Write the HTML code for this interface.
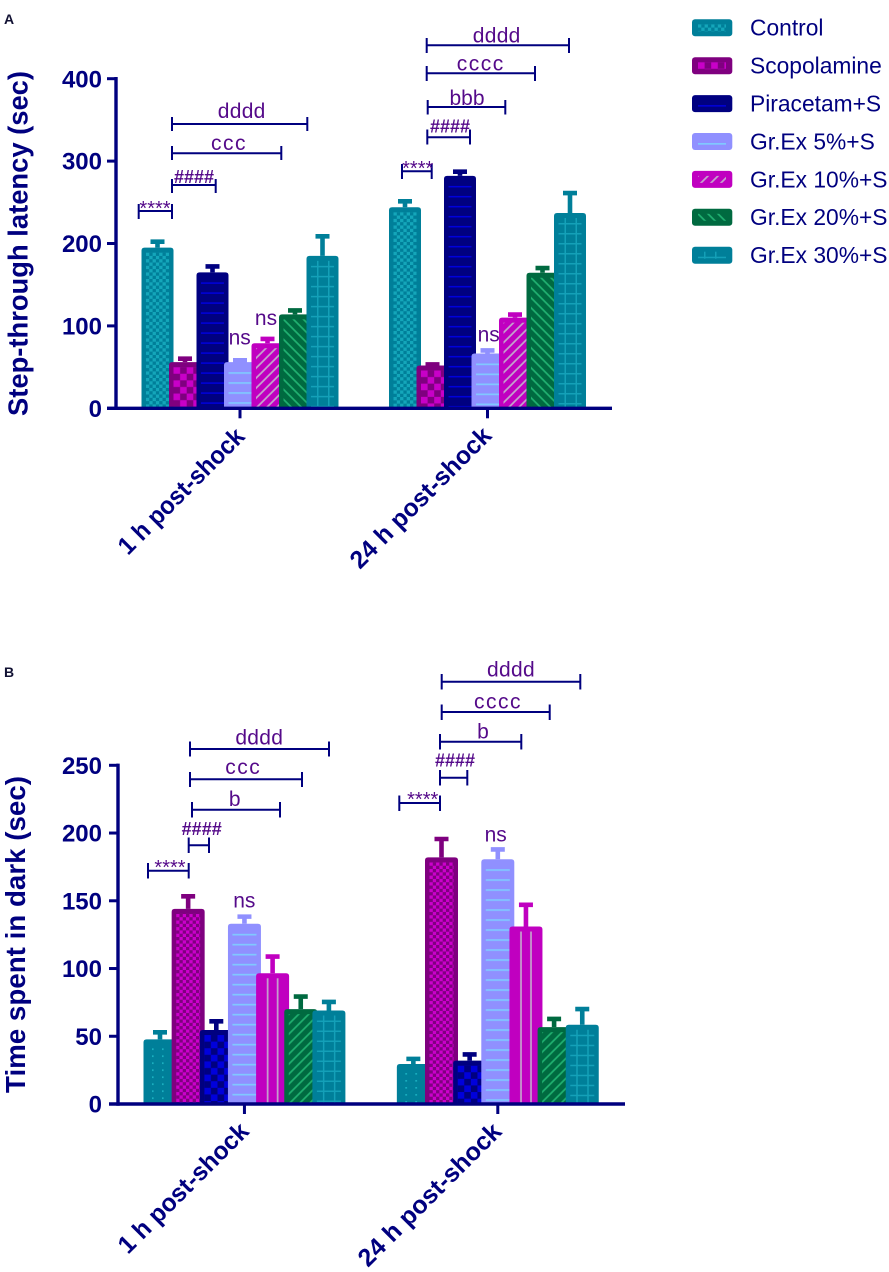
<!DOCTYPE html>
<html lang="en">
<head>
<meta charset="utf-8">
<title>Step-through latency and time spent in dark</title>
<style>
html,body{margin:0;padding:0;background:#fff;}
svg{display:block;font-family:"Liberation Sans",sans-serif;}
.b{fill:none;stroke:#00007f;stroke-width:2;}
.t{fill:#550a8a;font-size:21px;text-anchor:middle;}
.h{fill:#550a8a;font-size:18px;text-anchor:middle;font-weight:bold;}
.s{fill:#550a8a;font-size:20px;text-anchor:middle;}
</style>
</head>
<body>
<svg id="fig" xmlns="http://www.w3.org/2000/svg" width="889" height="1272" viewBox="0 0 889 1272">
<defs>
<pattern id="pA0" width="6.6" height="6.6" patternUnits="userSpaceOnUse"><rect width="6.6" height="6.6" fill="#007f99"/><rect width="3.3" height="3.3" fill="#14a6ba"/><rect x="3.3" y="3.3" width="3.3" height="3.3" fill="#14a6ba"/></pattern>
<pattern id="pA1" width="13.2" height="13.2" patternUnits="userSpaceOnUse"><rect width="13.2" height="13.2" fill="#7f007f"/><rect width="6.6" height="6.6" fill="#c800c8"/><rect x="6.6" y="6.6" width="6.6" height="6.6" fill="#c800c8"/></pattern>
<pattern id="pA2" width="10" height="10" patternUnits="userSpaceOnUse"><rect width="10" height="10" fill="#000080"/><rect y="5" width="10" height="1.5" fill="#0000dc"/></pattern>
<pattern id="pA3" width="10" height="10" patternUnits="userSpaceOnUse"><rect width="10" height="10" fill="#9090ff"/><rect y="5" width="10" height="1.7" fill="#80c8ff"/></pattern>
<pattern id="pA4" width="10" height="10" patternUnits="userSpaceOnUse"><rect width="10" height="10" fill="#c000c0"/><path d="M-2 12L12 -2M-7 7L7 -7M3 17L17 3" stroke="#c4a4cc" stroke-width="1.7"/></pattern>
<pattern id="pA5" width="10" height="10" patternUnits="userSpaceOnUse"><rect width="10" height="10" fill="#006a40"/><path d="M-2 -2L12 12M-7 3L7 17M3 -7L17 7" stroke="#20b070" stroke-width="1.7"/></pattern>
<pattern id="pA6" width="11" height="10" patternUnits="userSpaceOnUse"><rect width="11" height="10" fill="#007f99"/><rect y="5" width="11" height="1.5" fill="#14a0b8"/><rect x="6" width="1.5" height="10" fill="#14a0b8"/></pattern>
<pattern id="pB0" width="10" height="7" patternUnits="userSpaceOnUse"><rect width="10" height="7" fill="#007f99"/><rect x="4" y="4" width="1.6" height="1.6" fill="#1cb4c4"/></pattern>
<pattern id="pB1" width="6.6" height="6.6" patternUnits="userSpaceOnUse"><rect width="6.6" height="6.6" fill="#7f007f"/><rect width="3.3" height="3.3" fill="#cc00cc"/><rect x="3.3" y="3.3" width="3.3" height="3.3" fill="#cc00cc"/></pattern>
<pattern id="pB2" width="13.2" height="13.2" patternUnits="userSpaceOnUse"><rect width="13.2" height="13.2" fill="#000080"/><rect width="6.6" height="6.6" fill="#0000dc"/><rect x="6.6" y="6.6" width="6.6" height="6.6" fill="#0000dc"/></pattern>
<pattern id="pB3" width="10" height="10" patternUnits="userSpaceOnUse"><rect width="10" height="10" fill="#9090ff"/><rect y="5" width="10" height="1.7" fill="#80c8ff"/></pattern>
<pattern id="pB4" width="10" height="10" patternUnits="userSpaceOnUse"><rect width="10" height="10" fill="#c000c0"/><rect x="6.2" width="1.7" height="10" fill="#c4a4cc"/></pattern>
<pattern id="pB5" width="10" height="10" patternUnits="userSpaceOnUse"><rect width="10" height="10" fill="#006a40"/><path d="M-2 12L12 -2M-7 7L7 -7M3 17L17 3" stroke="#20b070" stroke-width="1.7"/></pattern>
<pattern id="pB6" width="11" height="10" patternUnits="userSpaceOnUse"><rect width="11" height="10" fill="#007f99"/><rect y="5" width="11" height="1.5" fill="#14a0b8"/><rect x="6" width="1.5" height="10" fill="#14a0b8"/></pattern>
</defs>

<text x="4" y="24" font-size="14" font-weight="bold" fill="#111133">A</text>
<text x="4" y="677" font-size="14" font-weight="bold" fill="#111133">B</text>

<g id="chartA"></g>
<g id="chartB"></g>

<g>
<path class="b" d="M172 117V131M172 124H307.3M307.3 117V131"/>
<text class="t" style="letter-spacing:.3px" x="241.7" y="118">dddd</text>
<path class="b" d="M172 146V160M172 153.3H281.3M281.3 146V160"/>
<text class="t" style="letter-spacing:1.5px" x="229" y="150">ccc</text>
<path class="b" d="M172 179V193M172 185H215.7M215.7 179V193"/>
<text class="h" x="194" y="183">####</text>
<path class="b" d="M138.7 204V219M138.7 211H172M172 204V219"/>
<text class="s" x="155" y="215">****</text>
<text class="t" x="239.7" y="344.3">ns</text>
<text class="t" x="266" y="325">ns</text>

<path class="b" d="M426.7 38V53M426.7 45.3H569M569 38V53"/>
<text class="t" style="letter-spacing:.3px" x="496.7" y="42.7">dddd</text>
<path class="b" d="M426.7 66V81M426.7 73.3H535M535 66V81"/>
<text class="t" style="letter-spacing:1.5px" x="480.7" y="70.7">cccc</text>
<path class="b" d="M427.7 100V114.500M427.7 107H505.300M505.300 100V114.500"/>
<text class="t" x="467" y="105">bbb</text>
<path class="b" d="M427.300 129.500V144.500M427.300 137.300H470M470 129.500V144.500"/>
<text class="h" x="450" y="132.300">####</text>
<path class="b" d="M402 164V179M402 171.300H431.700M431.700 164V179"/>
<text class="s" x="417.700" y="175">****</text>
<text class="t" x="488.700" y="341.700">ns</text>
</g>

<g>
<path class="b" d="M190 741.500V756.500M190 749H329M329 741.500V756.500"/>
<text class="t" style="letter-spacing:.3px" x="259.300" y="744.300">dddd</text>
<path class="b" d="M190 772V787M190 779.300H302M302 772V787"/>
<text class="t" style="letter-spacing:1.5px" x="243.300" y="774">ccc</text>
<path class="b" d="M192 802V817.500M192 809.700H280M280 802V817.500"/>
<text class="t" x="234.700" y="806">b</text>
<path class="b" d="M188.700 837.500V853M188.700 845.300H209M209 837.500V853"/>
<text class="h" x="201.700" y="835">####</text>
<path class="b" d="M148 863V878.500M148 870.700H188.700M188.700 863V878.500"/>
<text class="s" x="170" y="874">****</text>
<text class="t" x="244.300" y="907.300">ns</text>

<path class="b" d="M441.700 674V689.500M441.700 681.700H580.300M580.300 674V689.500"/>
<text class="t" style="letter-spacing:.3px" x="511" y="676.700">dddd</text>
<path class="b" d="M441.700 704.500V720M441.700 712H549.700M549.700 704.500V720"/>
<text class="t" style="letter-spacing:1.5px" x="498" y="708.300">cccc</text>
<path class="b" d="M440 734V749.500M440 741.700H521.300M521.300 734V749.500"/>
<text class="t" x="483" y="738.700">b</text>
<path class="b" d="M440 770V785.500M440 777.700H467.300M467.300 770V785.500"/>
<text class="h" x="455" y="766.700">####</text>
<path class="b" d="M399.300 795.500V811M399.300 803H440M440 795.500V811"/>
<text class="s" x="422.700" y="806">****</text>
<text class="t" x="495.700" y="841.700">ns</text>
</g>

<g id="legend"></g>
</svg>

<script>
const categories = ['1 h post-shock', '24 h post-shock'];
const treatments = ['Control', 'Scopolamine', 'Piracetam+S', 'Gr.Ex 5%+S', 'Gr.Ex 10%+S', 'Gr.Ex 20%+S', 'Gr.Ex 30%+S'];

const latencyTicks = [0, 100, 200, 300, 400];
const latency1hMeans = [195, 56, 165, 56, 79, 114, 185];
const latency1hErrors = [10, 7, 10, 5, 8, 7.5, 26.5];
const latency24hMeans = [244, 52, 282, 66.5, 110, 164.5, 237];
const latency24hErrors = [10, 4, 8, 6.5, 6.5, 8.5, 27];

const darkTicks = [0, 50, 100, 150, 200, 250];
const dark1hMeans = [47.7, 144, 54.6, 133, 96.5, 70, 69];
const dark1hErrors = [6.9, 11, 8.1, 7, 14, 11, 8];
const dark24hMeans = [29.5, 182, 32, 180.7, 131, 56.7, 58.5];
const dark24hErrors = [5.5, 15.3, 6.3, 8.9, 17.7, 7.8, 13.3];

const edgeColors = ['#007f99', '#7f007f', '#000080', '#9090ff', '#c000c0', '#006a40', '#007f99'];
const NS = 'http://www.w3.org/2000/svg';

function node(parent, tag, attrs, text) {
  const el = document.createElementNS(NS, tag);
  for (const k in attrs) el.setAttribute(k, attrs[k]);
  if (text !== undefined) el.textContent = text;
  parent.appendChild(el);
  return el;
}

function drawPanel(cfg) {
  const root = document.getElementById(cfg.rootId);
  const yOf = v => cfg.y0 - (v / cfg.yMax) * (cfg.y0 - cfg.yTop);
  const xOf = slot => cfg.x0 + cfg.step * slot;
  const navy = '#00007f';

  cfg.groups.forEach((group, g) => {
    group.means.forEach((mean, i) => {
      const cx = xOf(g * 9 + i);
      const top = yOf(mean);
      const errTop = yOf(mean + group.errors[i]);
      const left = cx - cfg.barW / 2;

      const bar = node(root, 'g', {});
      
      

      const err = node(bar, 'path', {
        d: 'M' + cx + ' ' + top + 'V' + errTop + 'M' + (cx - 7) + ' ' + (errTop + 2.3) + 'H' + (cx + 7),
        fill: 'none', stroke: edgeColors[i], 'stroke-width': 4.6
      });
      
      

      const h = cfg.y0 - top;
      const outer = node(bar, 'path', {
        d: 'M' + left + ' ' + cfg.y0 + 'V' + (top + 3) + 'Q' + left + ' ' + top + ' ' + (left + 3) + ' ' + top +
           'H' + (left + cfg.barW - 3) + 'Q' + (left + cfg.barW) + ' ' + top + ' ' + (left + cfg.barW) + ' ' + (top + 3) +
           'V' + cfg.y0 + 'Z',
        fill: edgeColors[i]
      });
      
      

      const innerH = h - 5;
      if (innerH > 0) {
        const inner = node(bar, 'rect', {
          x: 0, y: 0, width: cfg.barW - 9, height: innerH,
          transform: 'translate(' + (left + 4.5) + ' ' + (top + 5) + ')',
          fill: 'url(#p' + cfg.patternKey + i + ')'
        });
        
        
      }
    });
  });

  const yAxis = node(root, 'path', {
    d: 'M' + cfg.axisX + ' ' + (cfg.yTop - 1.7) + 'V' + (cfg.y0 + 1.7),
    stroke: navy, 'stroke-width': 3.4, fill: 'none'
  });
  
  

  const xAxis = node(root, 'path', {
    d: 'M' + (cfg.axisX - 9) + ' ' + cfg.y0 + 'H' + cfg.axisEnd,
    stroke: navy, 'stroke-width': 3.4, fill: 'none'
  });
  
  

  cfg.ticks.forEach(t => {
    const y = yOf(t);
    const tick = node(root, 'path', {
      d: 'M' + (cfg.axisX - 9) + ' ' + y + 'H' + cfg.axisX,
      stroke: navy, 'stroke-width': 3, fill: 'none'
    });
    
    
    const label = node(root, 'text', {
      x: 102, y: y + 8.6, 'text-anchor': 'end', 'font-size': 24, 'font-weight': 'bold', fill: navy
    }, String(t));
    
    
  });

  categories.forEach((c, g) => {
    const tx = xOf(g * 9 + 3);
    const tick = node(root, 'path', {
      d: 'M' + tx + ' ' + cfg.y0 + 'V' + (cfg.y0 + 10),
      stroke: navy, 'stroke-width': 3, fill: 'none'
    });
    
    
    const lab = cfg.xLabels[g];
    const label = node(root, 'text', {
      transform: 'translate(' + lab.x + ' ' + lab.y + ') rotate(-45)',
      'font-size': 25, 'font-weight': 'bold', fill: navy,
      textLength: lab.len, lengthAdjust: 'spacingAndGlyphs'
    }, c);
    
    
  });

  const title = node(root, 'text', {
    transform: 'translate(' + cfg.titleX + ' ' + cfg.titleBottom + ') rotate(-90)',
    'font-size': 27.4, 'font-weight': 'bold', fill: navy,
    textLength: cfg.titleLen, lengthAdjust: 'spacingAndGlyphs'
  }, cfg.title);
  
  
}

drawPanel({
  rootId: 'chartA', key: 'latency', patternKey: 'A',
  y0: 408.3, yTop: 78.7, yMax: 400, x0: 157.5, step: 27.5, barW: 32,
  axisX: 116, axisEnd: 612, ticks: latencyTicks,
  groups: [{ means: latency1hMeans, errors: latency1hErrors }, { means: latency24hMeans, errors: latency24hErrors }],
  xLabels: [{ x: 128, y: 556, len: 167 }, { x: 360, y: 570, len: 188 }],
  title: 'Step-through latency (sec)', titleX: 27.5, titleBottom: 416, titleLen: 345
});

drawPanel({
  rootId: 'chartB', key: 'dark', patternKey: 'B',
  y0: 1104, yTop: 765.3, yMax: 250, x0: 160, step: 28.15, barW: 33,
  axisX: 118, axisEnd: 625, ticks: darkTicks,
  groups: [{ means: dark1hMeans, errors: dark1hErrors }, { means: dark24hMeans, errors: dark24hErrors }],
  xLabels: [{ x: 128, y: 1255, len: 173 }, { x: 368, y: 1268, len: 191 }],
  title: 'Time spent in dark (sec)', titleX: 25, titleBottom: 1093, titleLen: 317
});

const legendRoot = document.getElementById('legend');
treatments.forEach((name, i) => {
  const y = 19.3 + 37.9 * i;
  const entry = node(legendRoot, 'g', {});
  
  
  const sw = node(entry, 'rect', { x: 692, y: y, width: 40.3, height: 17, rx: 3, fill: edgeColors[i] });
  
  
  const inner = node(entry, 'rect', {
    x: 0, y: 0, width: 28, height: 7,
    transform: 'translate(698 ' + (y + 5) + ')',
    fill: 'url(#pA' + i + ')'
  });
  
  
  const label = node(entry, 'text', { x: 750, y: y + 16.4, 'font-size': 22.8, fill: '#00007f' }, name);
  
  
});
</script>
</body>
</html>
